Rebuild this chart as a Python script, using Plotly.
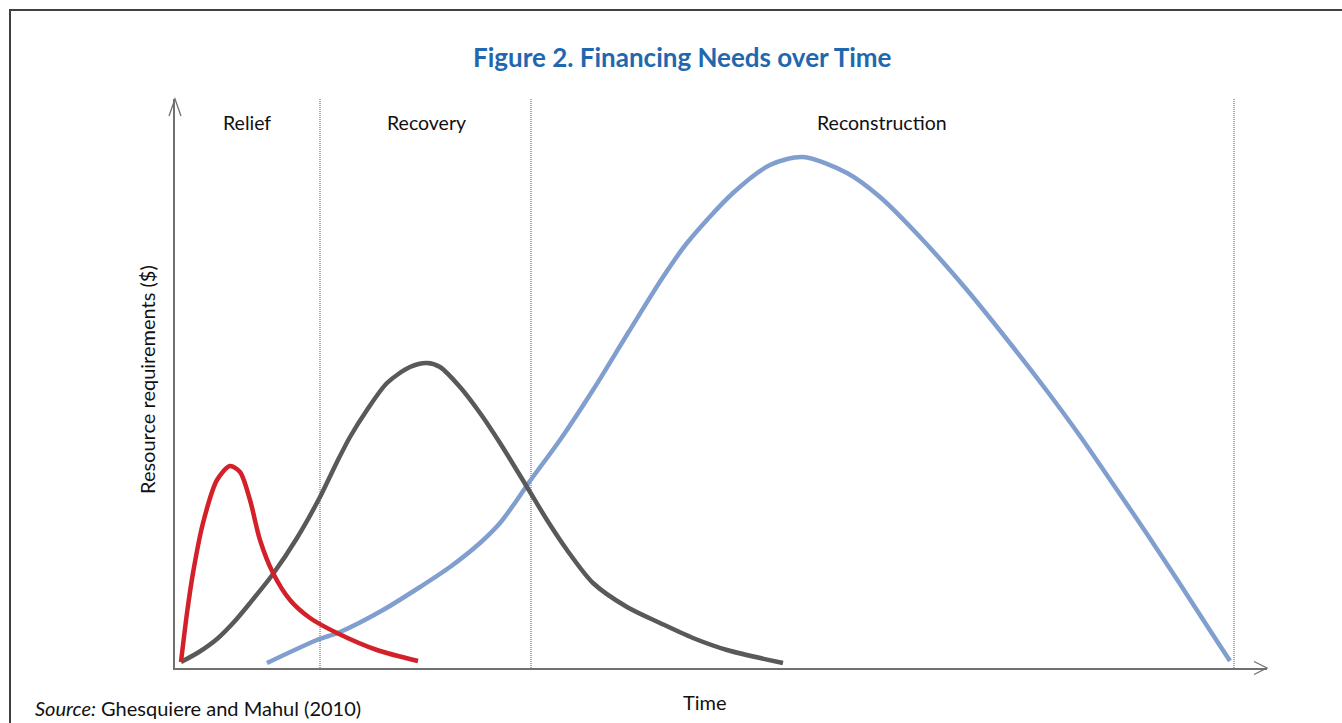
import plotly.graph_objects as go

W, H = 1342, 723

# ---------------- data (time units, resource units) ----------------
relief_t = [0.6, 1.2, 1.8, 2.8, 4.2, 5.5, 6.5, 7.5, 8.5, 9.8, 11.5, 13.5, 16.2, 20.2, 24.3]
relief_r = [0.6, 5.5, 9.5, 14.5, 18.8, 20.2, 19.6, 16.8, 12.8, 9.5, 6.8, 5.0, 3.5, 1.8, 0.7]

recovery_t = [0.6, 2.4, 4.2, 5.9, 7.5, 9.8, 12.2, 14.5, 16.2, 17.5, 19.2, 21.2, 23.5, 25.2, 26.5,
              28.5, 30.5, 32.5, 35.2, 37.2, 39.2, 41.8, 45.2, 48.5, 51.8, 55.2, 60.8]
recovery_r = [0.6, 1.6, 2.9, 4.6, 6.5, 9.4, 13.0, 17.1, 20.6, 23.1, 25.8, 28.5, 30.1, 30.5, 30.1,
              28.1, 25.5, 22.5, 18.1, 14.8, 11.8, 8.5, 6.1, 4.5, 3.0, 1.8, 0.5]

recon_t = [9.2, 14.2, 16.5, 20.8, 24.5, 27.5, 30.5, 32.5, 34.2, 35.5, 38.5, 41.8, 45.3, 48.8,
           51.2, 55.8, 59.5, 62.8, 67.2, 70.5, 74.5, 79.2, 83.8, 87.2, 90.5, 93.8, 97.2,
           100.5, 103.8, 105.5]
recon_r = [0.5, 2.8, 3.6, 5.8, 8.1, 10.1, 12.5, 14.5, 16.8, 18.7, 22.8, 27.8, 33.5, 39.1,
           42.5, 47.5, 50.3, 51.1, 49.5, 47.1, 43.1, 37.8, 32.1, 27.7, 23.2, 18.4, 13.4,
           8.4, 3.3, 0.7]

phase_names = ["Relief", "Recovery", "Reconstruction"]
phase_label_t = [7.2, 25.1, 70.7]
phase_bounds = [14.5, 35.6, 105.9]

T_MAX, R_MAX = 109.2, 56.9

FONT = "Lato"

# ---------------- layout helpers (pixel -> paper) ----------------
def px(x):
    return x / W

def py(y):
    return 1 - y / H

PLOT_L, PLOT_R, PLOT_T, PLOT_B = 175, 1267, 99, 668

fig = go.Figure()
fig.add_trace(go.Scatter(x=recon_t, y=recon_r, mode="lines", line=dict(color="#809fcf", width=4.5, shape="spline", smoothing=0.8), hoverinfo="skip"))
fig.add_trace(go.Scatter(x=recovery_t, y=recovery_r, mode="lines", line=dict(color="#595959", width=4.5, shape="spline", smoothing=0.8), hoverinfo="skip"))
fig.add_trace(go.Scatter(x=relief_t, y=relief_r, mode="lines", line=dict(color="#d42029", width=4.5, shape="spline", smoothing=0.8), hoverinfo="skip"))

shapes = []
# dotted phase boundaries
for b in phase_bounds:
    shapes.append(dict(type="line", xref="x", yref="y", x0=b, x1=b, y0=0, y1=57.0,
                       line=dict(color="#555555", width=1, dash="1px,1px"), layer="below"))
# axis arrowheads (open chevrons)
shapes.append(dict(type="path", xref="paper", yref="paper",
                   path=f"M {px(1254)},{py(661.5)} L {px(1267)},{py(668)} L {px(1254)},{py(674.5)}",
                   line=dict(color="#707070", width=1.3)))
shapes.append(dict(type="path", xref="paper", yref="paper",
                   path=f"M {px(169)},{py(116)} L {px(175)},{py(99)} L {px(181)},{py(116)}",
                   line=dict(color="#707070", width=1.3)))
# frame
shapes.append(dict(type="path", xref="paper", yref="paper",
                   path=f"M {px(10)},{py(740)} L {px(10)},{py(10)} L {px(1360)},{py(10)}",
                   line=dict(color="#404040", width=2)))

annotations = []
for name, t in zip(phase_names, phase_label_t):
    annotations.append(dict(x=t, y=py(122), xref="x", yref="paper", text=name, showarrow=False,
                            font=dict(family=FONT, size=19.5, color="#111111"),
                            xanchor="center", yanchor="middle"))
annotations.append(dict(x=px(682), y=py(57), xref="paper", yref="paper",
                        text="<b>Figure 2. Financing Needs over Time</b>", showarrow=False,
                        font=dict(family=FONT, size=26, color="#1f68b0"),
                        xanchor="center", yanchor="middle"))
annotations.append(dict(x=px(705), y=py(702), xref="paper", yref="paper", text="Time",
                        showarrow=False, font=dict(family=FONT, size=20, color="#111111"),
                        xanchor="center", yanchor="middle"))
annotations.append(dict(x=px(147), y=py(380), xref="paper", yref="paper",
                        text="Resource requirements ($)", textangle=-90, showarrow=False,
                        font=dict(family=FONT, size=20, color="#111111"),
                        xanchor="center", yanchor="middle"))
annotations.append(dict(x=px(33), y=py(708), xref="paper", yref="paper",
                        text="<i>Source:</i> Ghesquiere and Mahul (2010)", showarrow=False,
                        font=dict(family=FONT, size=20, color="#111111"),
                        xanchor="left", yanchor="middle"))

fig.update_layout(
    width=W, height=H,
    margin=dict(l=0, r=0, t=0, b=0),
    paper_bgcolor="white", plot_bgcolor="white",
    showlegend=False,
    shapes=shapes, annotations=annotations,
    xaxis=dict(domain=[px(PLOT_L), px(PLOT_R)], range=[0, T_MAX], showgrid=False, zeroline=False,
               showticklabels=False, ticks="", showline=True, linecolor="#707070", linewidth=1.5,
               fixedrange=True),
    yaxis=dict(domain=[py(PLOT_B), py(PLOT_T)], range=[0, R_MAX], showgrid=False, zeroline=False,
               showticklabels=False, ticks="", showline=True, linecolor="#707070", linewidth=1.5,
               fixedrange=True),
)

fig.write_html("out.html", config={"displayModeBar": False},
               post_script="document.body.style.margin='0';document.body.style.overflow='hidden';")
